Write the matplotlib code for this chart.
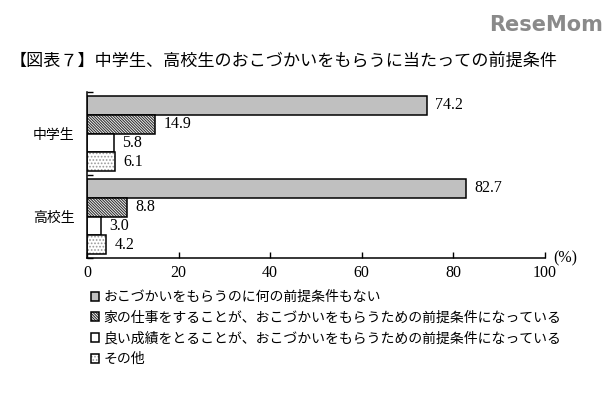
import matplotlib
matplotlib.use("Agg")
import matplotlib.pyplot as plt
import numpy as np

plt.rcParams['font.family'] = ['Noto Sans CJK JP', 'DejaVu Sans']
plt.rcParams['hatch.linewidth'] = 0.8

categories = ["中学生", "高校生"]
series_labels = [
    "おこづかいをもらうのに何の前提条件もない",
    "家の仕事をすることが、おこづかいをもらうための前提条件になっている",
    "良い成績をとることが、おこづかいをもらうための前提条件になっている",
    "その他",
]
values = [
    [74.2, 82.7],
    [14.9, 8.8],
    [5.8, 3.0],
    [6.1, 4.2],
]
xticks = [0, 20, 40, 60, 80, 100]

faces = ["#c0c0c0", "white", "white", "white"]
hatches = [None, "\\" * 12, None, "." * 5]
hatch_colors = ["black", "#333333", "black", "#999999"]

serif = ["Liberation Serif", "DejaVu Serif"]

fig = plt.figure(figsize=(6.15, 3.93), dpi=100)
ax = fig.add_axes([87/615, 135/393, 458/615, 166/393])

bh = 0.225
y0 = np.arange(len(categories))
handles = []
for i, (vals, fc, h, hc) in enumerate(zip(values, faces, hatches, hatch_colors)):
    ys = y0 + (i - 1.5) * bh
    bars = ax.barh(ys, vals, height=bh, color=fc, edgecolor="black",
                   linewidth=1.1, hatch=h, label=series_labels[i])
    for b in bars:
        b._hatch_color = matplotlib.colors.to_rgba(hc)
    handles.append(bars)
    for y, v in zip(ys, vals):
        ax.text(v + 1.8, y, f"{v:.1f}", va="center", ha="left",
                fontsize=11.5, family=serif)

ax.set_xlim(0, 100)
ax.set_ylim(1.5, -0.5)
ax.set_xticks(xticks)
ax.set_xticklabels([str(t) for t in xticks], family=serif, fontsize=11.5)
ax.tick_params(axis="x", direction="in", length=4, width=1, pad=5)
ax.set_yticks([-0.5, 0.5, 1.5])
ax.set_yticklabels([])
ax.set_yticks(y0, minor=True)
ax.set_yticklabels(categories, minor=True, fontsize=10)
ax.tick_params(axis="y", which="major", direction="in", length=4, width=1)
ax.tick_params(axis="y", which="minor", length=0, pad=9)
for s in ["top", "right"]:
    ax.spines[s].set_visible(False)
for s in ["left", "bottom"]:
    ax.spines[s].set_linewidth(1.1)

fig.text(553/615, 1 - 258/393, "(%)", fontsize=11.5, va="center", ha="left",
         family=serif)

fig.text(10/615, 1 - 61/393, "【図表７】中学生、高校生のおこづかいをもらうに当たっての前提条件",
         fontsize=12.3, va="center", ha="left")

fig.text(603/615, 1 - 25/393, "ReseMom", fontsize=15, fontweight="bold",
         color="#8a8a8a", va="center", ha="right", family=["DejaVu Sans"])

leg = fig.legend(handles=handles, labels=series_labels, loc="upper left",
                 bbox_to_anchor=(91/615, 1 - 290/393), frameon=False,
                 fontsize=10, handlelength=0.6, handleheight=0.6,
                 handletextpad=0.3, labelspacing=0.48, borderpad=0,
                 borderaxespad=0)

fig.savefig("out.png", dpi=100)
